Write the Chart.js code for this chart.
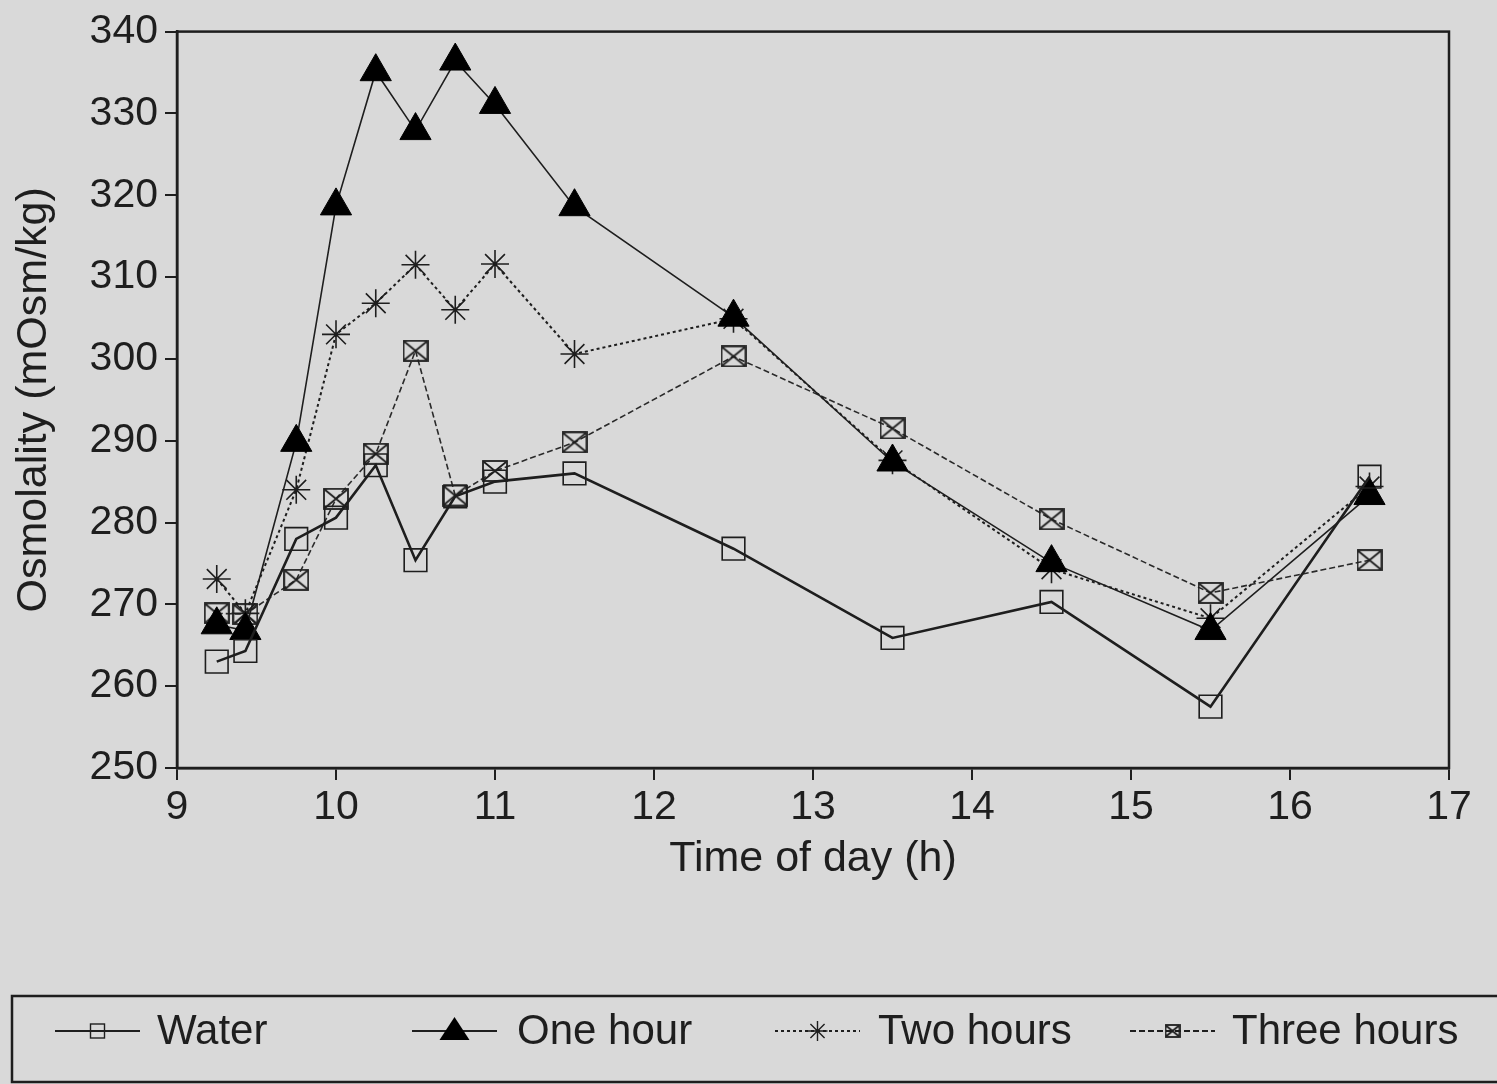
<!DOCTYPE html>
<html>
<head>
<meta charset="utf-8">
<title>Osmolality</title>
<script src="https://cdn.jsdelivr.net/npm/chart.js@4.4.1/dist/chart.umd.min.js"></script>
<style>
  html, body { margin: 0; padding: 0; background: #d9d9d9; }
  #wrap { width: 1497px; height: 1084px; position: relative; }
</style>
</head>
<body>
<div id="wrap"><canvas id="chart"></canvas></div>
<script>
// sample times (h) and series values (mOsm/kg)
const times = [9.25, 9.43, 9.75, 10, 10.25, 10.5, 10.75, 11, 11.5, 12.5, 13.5, 14.5, 15.5, 16.5];
const water = [263, 264.3, 278, 280.6, 287, 275.4, 283.2, 285, 286, 276.8, 265.9, 270.3, 257.5, 285.6];
const oneHour = [267.5, 266.8, 289.8, 318.7, 335.1, 327.9, 336.4, 331.1, 318.6, 305.1, 287.4, 275.1, 266.8, 283.3];
const twoHours = [273.1, 268.9, 284, 303, 306.8, 311.5, 306, 311.6, 300.6, 304.9, 287.6, 274.3, 268.3, 284.4];
const threeHours = [268.9, 268.8, 273, 282.9, 288.4, 301, 283.3, 286.3, 289.8, 300.3, 291.5, 280.4, 271.4, 275.4];
const labels = ['Water', 'One hour', 'Two hours', 'Three hours'];
const xTicks = [9, 10, 11, 12, 13, 14, 15, 16, 17];
const yTicks = [250, 260, 270, 280, 290, 300, 310, 320, 330, 340];

const ink = '#1e1e1e';
const FONT = '"Liberation Sans", Arial, sans-serif';

// box with an X inside, used for the "Three hours" marker
function boxX(w, h) {
  const c = document.createElement('canvas');
  c.width = w; c.height = h;
  const g = c.getContext('2d');
  g.strokeStyle = ink;
  g.lineWidth = 1.8;
  g.strokeRect(1, 1, w - 2, h - 2);
  g.beginPath();
  g.moveTo(2, 2); g.lineTo(w - 2, h - 2);
  g.moveTo(w - 2, 2); g.lineTo(2, h - 2);
  g.stroke();
  return c;
}
const boxXBig = boxX(26, 22);
const boxXSmall = boxX(16, 14);

function pts(arr) { return arr.map((v, i) => ({ x: times[i], y: v })); }

const datasets = [
  { label: labels[0], data: pts(water), borderColor: ink, borderWidth: 2.6, borderDash: [],
    pointStyle: 'rect', pointRadius: 16, pointBorderWidth: 1.6, pointBorderColor: ink, pointBackgroundColor: 'rgba(0,0,0,0)' },
  { label: labels[1], data: pts(oneHour), borderColor: ink, borderWidth: 1.6, borderDash: [],
    pointStyle: 'triangle', pointRadius: 18, pointBorderWidth: 1, pointBorderColor: '#000', pointBackgroundColor: '#000' },
  { label: labels[2], data: pts(twoHours), borderColor: ink, borderWidth: 2, borderDash: [3, 3],
    pointStyle: 'star', pointRadius: 14, pointBorderWidth: 1.6, pointBorderColor: ink, pointBackgroundColor: ink },
  { label: labels[3], data: pts(threeHours), borderColor: '#2a2a2a', borderWidth: 1.6, borderDash: [6, 3],
    pointStyle: boxXBig, pointRadius: 12, pointBorderColor: ink, pointBackgroundColor: 'rgba(0,0,0,0)' }
];

// frame around the plot area
const frame = {
  id: 'frame',
  afterDatasetsDraw(chart) {
    const { ctx, chartArea: a } = chart;
    ctx.save();
    ctx.strokeStyle = ink;
    ctx.lineWidth = 2.5;
    ctx.strokeRect(a.left, a.top, a.right - a.left, a.bottom - a.top);
    ctx.restore();
  }
};

// legend boxed along the bottom
const bottomLegend = {
  id: 'bottomLegend',
  afterDraw(chart) {
    const ctx = chart.ctx;
    const y = 1031;
    const lineStart = [55, 412, 775, 1130];
    const textX = [157, 517, 878, 1232];
    ctx.save();
    ctx.strokeStyle = ink;
    ctx.lineWidth = 2.5;
    ctx.strokeRect(12, 996, 1500, 86);
    chart.data.datasets.forEach((ds, i) => {
      const x0 = lineStart[i], x1 = x0 + 85, mx = (x0 + x1) / 2;
      ctx.strokeStyle = ink;
      ctx.lineWidth = 2;
      ctx.setLineDash(ds.borderDash);
      ctx.beginPath(); ctx.moveTo(x0, y); ctx.lineTo(x1, y); ctx.stroke();
      ctx.setLineDash([]);
      ctx.lineWidth = 1.4;
      if (ds.pointStyle === 'rect') {
        ctx.strokeRect(mx - 7, y - 7, 14, 14);
      } else if (ds.pointStyle === 'triangle') {
        ctx.fillStyle = '#000';
        ctx.beginPath();
        ctx.moveTo(mx, y - 14); ctx.lineTo(mx + 15, y + 9); ctx.lineTo(mx - 15, y + 9);
        ctx.closePath(); ctx.fill();
      } else if (ds.pointStyle === 'star') {
        const r = 10;
        ctx.beginPath();
        for (let k = 0; k < 4; k++) {
          const ang = k * Math.PI / 4;
          ctx.moveTo(mx - r * Math.cos(ang), y - r * Math.sin(ang));
          ctx.lineTo(mx + r * Math.cos(ang), y + r * Math.sin(ang));
        }
        ctx.stroke();
      } else {
        ctx.drawImage(boxXSmall, mx - 8, y - 7);
      }
      ctx.fillStyle = ink;
      ctx.font = '42px ' + FONT;
      ctx.textBaseline = 'middle';
      ctx.fillText(ds.label, textX[i], y + 1);
    });
    ctx.restore();
  }
};

new Chart(document.getElementById('chart'), {
  type: 'line',
  data: { datasets },
  plugins: [frame, bottomLegend],
  options: {
    responsive: true,
    maintainAspectRatio: false,
    animation: false,
    layout: { padding: { top: 29, right: 48, left: 0, bottom: 124 } },
    plugins: { legend: { display: false }, tooltip: { enabled: false } },
    elements: { line: { tension: 0, fill: false } },
    scales: {
      x: {
        type: 'linear', min: 9, max: 17,
        afterBuildTicks: s => { s.ticks = xTicks.map(v => ({ value: v })); },
        afterFit: s => { s.height = 192; },
        ticks: { color: ink, font: { family: FONT, size: 41 }, padding: 3, maxRotation: 0 },
        grid: { drawOnChartArea: false, tickLength: 12, color: ink, lineWidth: 2 },
        border: { color: ink, width: 2.5 },
        title: { display: true, text: 'Time of day (h)', color: ink, font: { family: FONT, size: 43 }, padding: { bottom: 75 } }
      },
      y: {
        min: 250, max: 340,
        afterBuildTicks: s => { s.ticks = yTicks.map(v => ({ value: v })); },
        afterFit: s => { s.width = 177; },
        ticks: { color: ink, font: { family: FONT, size: 41 }, padding: 7 },
        grid: { drawOnChartArea: false, tickLength: 12, color: ink, lineWidth: 2 },
        border: { color: ink, width: 2.5 },
        title: { display: true, text: 'Osmolality (mOsm/kg)', color: ink, font: { family: FONT, size: 43 }, padding: { top: 8 } }
      }
    }
  }
});
</script>
</body>
</html>
